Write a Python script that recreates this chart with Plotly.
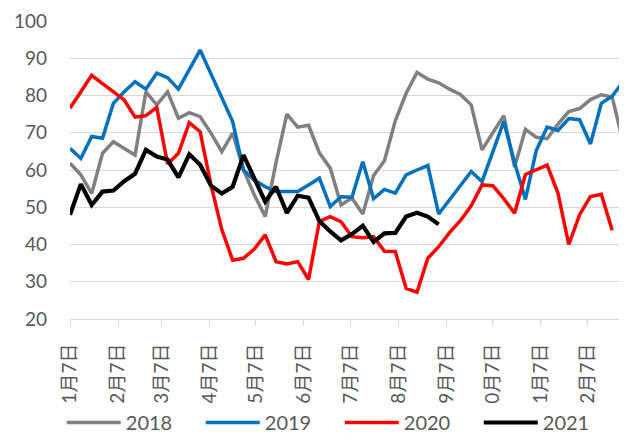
import pandas as pd
import plotly.graph_objects as go

# ------------------------------------------------------------------
# data: weekly readings, one list per year (all on the same Jan-Dec axis)
# ------------------------------------------------------------------
weeks = pd.date_range("2021-01-07", periods=52, freq="7D")

tick_dates = ["2021-%02d-07" % m for m in range(1, 13)]
tick_labels = ["%d月7日" % m for m in range(1, 13)]

y2018 = [61.8, 58.7, 53.7, 64.5, 67.6, 65.8, 64.0, 81.0, 77.5, 81.0,
         73.9, 75.4, 74.3, 69.9, 64.9, 69.9, 60.0, 53.3, 47.5, 62.0,
         75.0, 71.5, 72.0, 64.6, 60.5, 50.6, 52.5, 48.2, 58.5, 62.5,
         73.2, 80.6, 86.2, 84.4, 83.4, 81.7, 80.3, 77.5, 65.4, 70.0,
         74.6, 60.8, 70.9, 68.8, 68.4, 72.3, 75.7, 76.5, 78.9, 80.2,
         79.6, 67.6]

y2019 = [65.8, 63.1, 69.0, 68.5, 77.9, 81.0, 83.7, 81.7, 86.0, 84.8,
         81.7, 86.9, 92.2, 85.8, 79.4, 73.0, 60.0, 57.3, 55.5, 54.2,
         54.2, 54.2, 56.0, 57.8, 50.2, 52.8, 52.7, 62.2, 52.3, 54.8,
         53.8, 58.7, 60.0, 61.2, 48.2, 52.0, 55.7, 59.6, 56.9, 65.0,
         73.0, 62.0, 52.1, 65.2, 71.5, 70.6, 73.8, 73.5, 67.0, 77.9,
         79.8, 83.7]

y2020 = [76.6, 81.0, 85.4, 83.2, 81.0, 78.8, 74.2, 74.6, 76.8, 61.6,
         64.5, 72.7, 70.3, 56.0, 44.0, 35.8, 36.3, 38.8, 42.6, 35.4,
         34.8, 35.4, 30.6, 46.2, 47.5, 46.1, 42.1, 41.8, 42.1, 38.2,
         38.1, 28.2, 27.2, 36.3, 39.4, 43.2, 46.4, 50.4, 56.0, 55.8,
         52.3, 48.4, 58.8, 60.0, 61.3, 53.8, 40.0, 48.0, 52.9, 53.5,
         43.8]

y2021 = [48.0, 56.2, 50.6, 54.2, 54.5, 57.0, 59.0, 65.4, 63.6, 62.8,
         58.0, 64.2, 61.4, 55.8, 53.7, 55.5, 64.0, 58.0, 51.5, 55.5,
         48.5, 53.1, 52.6, 46.3, 43.5, 41.1, 42.8, 45.0, 40.7, 43.0,
         43.1, 47.5, 48.5, 47.5, 45.4]

series = [
    ("2018", y2018, "#808080", 3.5),
    ("2019", y2019, "#0070C0", 3.5),
    ("2020", y2020, "#FF0000", 3.5),
    ("2021", y2021, "#000000", 4.2),
]

# ------------------------------------------------------------------
# figure (page body adds an 8px margin, so the figure is 8px smaller)
# ------------------------------------------------------------------
FONT = "Lato, 'Noto Sans CJK SC', sans-serif"
GRID = "#d9d9d9"
TEXT = "#595959"

fig = go.Figure()
for name, vals, color, width in series:
    fig.add_trace(go.Scatter(
        x=weeks[:len(vals)],
        y=vals,
        name=name,
        mode="lines",
        line=dict(color=color, width=width),
    ))

fig.update_layout(
    width=619,
    height=434,
    margin=dict(l=62, r=4, t=13, b=123),
    paper_bgcolor="white",
    plot_bgcolor="white",
    font=dict(family=FONT, color=TEXT),
    legend=dict(
        orientation="h",
        xref="container", yref="container",
        x=0.536, xanchor="center",
        y=0.0, yanchor="bottom",
        font=dict(size=20, color=TEXT),
        itemwidth=54,
        entrywidth=70,
        tracegroupgap=0,
    ),
)

fig.update_xaxes(
    automargin=False,
    range=[weeks[0], weeks[-1]],
    tickmode="array",
    tickvals=tick_dates,
    ticktext=tick_labels,
    tickangle=-90,
    tickfont=dict(size=19, color=TEXT),
    ticks="outside",
    ticklen=6,
    tickcolor=GRID,
    ticklabelstandoff=10,
    showgrid=False,
    showline=True,
    linecolor=GRID,
    linewidth=1,
)

fig.update_yaxes(
    automargin=False,
    range=[20, 100],
    dtick=10,
    tickfont=dict(size=19, color=TEXT),
    ticklabelstandoff=22,
    showgrid=True,
    gridcolor=GRID,
    gridwidth=1,
    zeroline=False,
    ticks="",
)

fig.write_html("out.html")
